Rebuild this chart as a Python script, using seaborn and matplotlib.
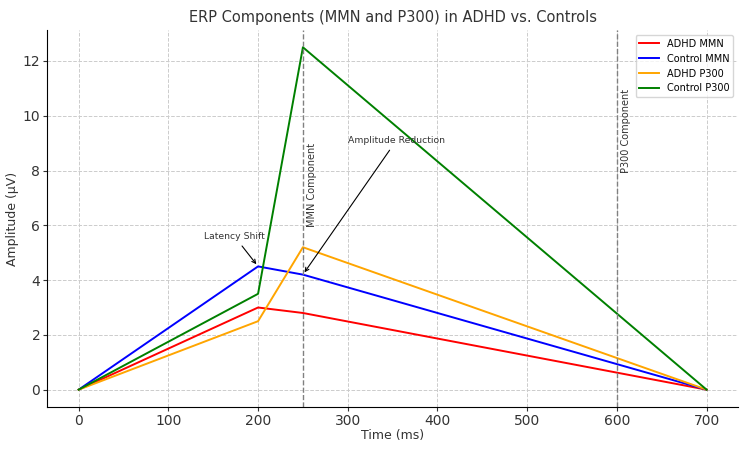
# ERP components line chart with seaborn
import pandas as pd
import seaborn as sns
import matplotlib
matplotlib.use("Agg")
import matplotlib.pyplot as plt

# Time points (ms) and amplitudes (uV)
time_ms = [0, 200, 250, 700]
adhd_mmn = [0, 3.0, 2.8, 0]
control_mmn = [0, 4.5, 4.2, 0]
adhd_p300 = [0, 2.5, 5.2, 0]
control_p300 = [0, 3.5, 12.5, 0]

series_names = ["ADHD MMN", "Control MMN", "ADHD P300", "Control P300"]
series_values = [adhd_mmn, control_mmn, adhd_p300, control_p300]
colors = ["red", "blue", "orange", "green"]

rows = []
for name, vals in zip(series_names, series_values):
    for t, v in zip(time_ms, vals):
        rows.append({"Time": t, "Amplitude": v, "Group": name})
df = pd.DataFrame(rows)

text_color = "#333333"

fig, ax = plt.subplots(figsize=(7.5, 4.5), dpi=100)
sns.lineplot(data=df, x="Time", y="Amplitude", hue="Group",
             hue_order=series_names, palette=colors, ax=ax, linewidth=1.4)

# Component markers
ax.axvline(250, color="gray", linestyle="--", linewidth=1)
ax.axvline(600, color="gray", linestyle="--", linewidth=1)
ax.text(255, 6, "MMN Component", rotation=90, fontsize=7, color=text_color)
ax.text(605, 8, "P300 Component", rotation=90, fontsize=7, color=text_color)

ax.annotate("Latency Shift", xy=(200, 4.5), xytext=(140, 5.5),
            arrowprops=dict(arrowstyle="->", color="black", linewidth=0.8),
            fontsize=6.7, color=text_color)
ax.annotate("Amplitude Reduction", xy=(250, 4.2), xytext=(300, 9),
            arrowprops=dict(arrowstyle="->", color="black", linewidth=0.8),
            fontsize=6.7, color=text_color)

ax.set_title("ERP Components (MMN and P300) in ADHD vs. Controls",
             fontsize=10.5, color=text_color)
ax.set_xlabel("Time (ms)", fontsize=9, color=text_color, labelpad=1)
ax.set_ylabel("Amplitude (µV)", fontsize=9, color=text_color, labelpad=3)
ax.tick_params(labelsize=10, colors=text_color, length=3, pad=2)
ax.grid(True, linestyle="--", color="#cccccc", linewidth=0.7)
ax.set_axisbelow(True)
sns.despine(ax=ax)
ax.legend(loc="upper right", fontsize=7)

fig.subplots_adjust(left=0.063, right=0.984, top=0.933, bottom=0.096)
plt.savefig("out.png")
